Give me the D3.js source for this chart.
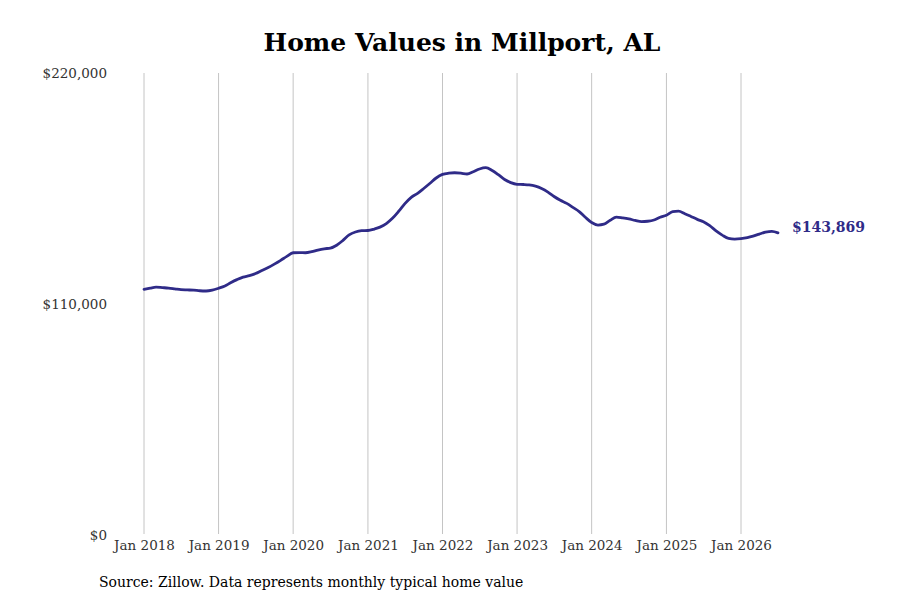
<!DOCTYPE html>
<html>
<head>
<meta charset="utf-8">
<script src="https://cdn.jsdelivr.net/npm/d3@7"></script>
<style>
  body { margin: 0; background: #fff; }
  text { font-family: "DejaVu Serif", serif; }
</style>
</head>
<body>
<div id="chart"></div>
<script>
// monthly typical home value, Jan 2018 .. Jul 2026 (thousands of $)
var startMonth = "2018-01";
var values = [
  117.0, 117.6, 118.0, 117.8, 117.6, 117.2, 116.8, 116.7, 116.6, 116.3, 116.2, 116.6,
  117.5, 118.6, 120.1, 121.6, 122.8, 123.5, 124.5, 126.0, 127.4, 129.0, 130.8, 132.7,
  134.4, 134.5, 134.4, 134.9, 135.7, 136.3, 136.6, 138.0, 140.3, 142.9, 144.3, 144.9,
  145.0, 145.7, 146.6, 148.3, 150.8, 154.2, 157.8, 160.8, 162.7, 165.0, 167.5, 170.0,
  171.7, 172.3, 172.5, 172.3, 171.9, 173.0, 174.3, 174.9, 173.6, 171.6, 169.3, 167.8,
  167.0, 166.9, 166.7, 166.1, 165.0, 163.3, 161.2, 159.4, 157.9, 156.0, 154.0, 151.3,
  148.8, 147.6, 148.0, 149.9, 151.4, 151.0, 150.5, 149.8, 149.2, 149.4, 150.0, 151.3,
  152.3, 154.0, 154.2, 153.0, 151.7, 150.3, 149.2, 147.3, 144.8, 142.8, 141.2, 140.9,
  141.1, 141.6, 142.3, 143.3, 144.2, 144.6, 143.869
];
var yTicks = [0, 110000, 220000];
var xTickYears = [2018, 2019, 2020, 2021, 2022, 2023, 2024, 2025, 2026];
var lastLabel = "$143,869";

var width = 900, height = 600;
var parseMonth = d3.timeParse("%Y-%m");
var t0 = parseMonth(startMonth);

var data = values.map(function(v, i) {
    return { date: d3.timeMonth.offset(t0, i), value: v * 1000 };
});

var svg = d3.select("#chart").append("svg")
    .attr("width", width)
    .attr("height", height);

var x = d3.scaleTime()
    .domain([new Date(2018, 0, 1), new Date(2026, 0, 1)])
    .range([144, 741]);

var y = d3.scaleLinear()
    .domain([0, 220000])
    .range([535, 73]);

// title
svg.append("text")
    .attr("x", 462)
    .attr("y", 51)
    .attr("text-anchor", "middle")
    .attr("font-size", "25px")
    .attr("font-weight", "bold")
    .attr("fill", "#000")
    .text("Home Values in Millport, AL");

// vertical grid lines at each January
var xTickDates = xTickYears.map(function(yr) { return new Date(yr, 0, 1); });

svg.append("g")
    .selectAll("line")
    .data(xTickDates)
    .enter()
    .append("line")
    .attr("x1", function(d) { return x(d); })
    .attr("x2", function(d) { return x(d); })
    .attr("y1", y(220000))
    .attr("y2", y(0) - 1)
    .attr("stroke", "#c4c4c4")
    .attr("stroke-width", 1);

// x axis labels
var xAxis = d3.axisBottom(x)
    .tickValues(xTickDates)
    .tickSize(0)
    .tickPadding(0)
    .tickFormat(d3.timeFormat("Jan %Y"));

var gx = svg.append("g")
    .attr("transform", "translate(0," + 540 + ")")
    .call(xAxis);
gx.select(".domain").remove();
gx.selectAll("text")
    .attr("font-family", "DejaVu Serif, serif")
    .attr("font-size", "13.5px")
    .attr("fill", "#333")
    .attr("dy", "0.71em");

// y axis labels
var yAxis = d3.axisLeft(y)
    .tickValues(yTicks)
    .tickSize(0)
    .tickPadding(0)
    .tickFormat(function(d) { return "$" + d3.format(",")(d); });

var gy = svg.append("g")
    .attr("transform", "translate(107,0)")
    .call(yAxis);
gy.select(".domain").remove();
gy.selectAll("text")
    .attr("font-family", "DejaVu Serif, serif")
    .attr("font-size", "13.5px")
    .attr("fill", "#333");

// the line
var line = d3.line()
    .x(function(d) { return x(d.date); })
    .y(function(d) { return y(d.value); })
    .curve(d3.curveMonotoneX);

svg.append("path")
    .datum(data)
    .attr("fill", "none")
    .attr("stroke", "#2f2b88")
    .attr("stroke-width", 2.8)
    .attr("stroke-linejoin", "round")
    .attr("stroke-linecap", "round")
    .attr("d", line);

// end label
var last = data[data.length - 1];
svg.append("text")
    .attr("x", x(last.date) + 14)
    .attr("y", y(last.value) - 6)
    .attr("dy", "0.35em")
    .attr("font-size", "14px")
    .attr("font-weight", "bold")
    .attr("fill", "#2f2b88")
    .text(lastLabel);

// source note
svg.append("text")
    .attr("x", 99)
    .attr("y", 587)
    .attr("font-size", "14px")
    .attr("fill", "#000")
    .text("Source: Zillow. Data represents monthly typical home value");
</script>
</body>
</html>
